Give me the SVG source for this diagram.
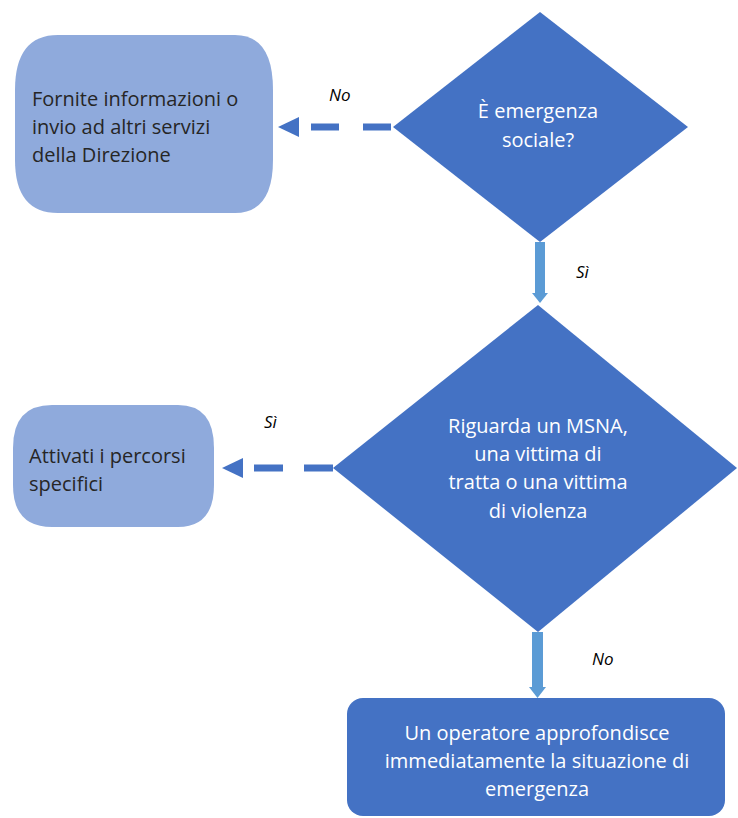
<svg xmlns="http://www.w3.org/2000/svg" width="738" height="818" viewBox="0 0 738 818">
<style>
.dark{fill:#4472c4}
.light{fill:#8faadc}
.tw{fill:#ffffff;font-family:"Open Sans","Liberation Sans",sans-serif;font-size:20px;text-anchor:middle}
.td{fill:#262626;font-family:"Open Sans","Liberation Sans",sans-serif;font-size:20px}
.lbl{fill:#000000;font-family:"Open Sans","Liberation Sans",sans-serif;font-size:17px;font-style:italic}
.dash{stroke:#4472c4;stroke-width:7;fill:none}
.vbar{fill:#5b9bd5}
</style>
<rect width="738" height="818" fill="#ffffff"/>
<g id="node-fornite">
<path class="light" d="M58,35 H235 Q273,35 273,90 V160 Q273,213 235,213 H58 Q15,213 15,160 V90 Q15,35 58,35 Z"/>
<text class="td" x="32" y="106">Fornite informazioni o</text>
<text class="td" x="32" y="134">invio ad altri servizi</text>
<text class="td" x="32" y="162">della Direzione</text>
</g>
<g id="node-emergenza">
<polygon class="dark" points="540,12 688,127 540,242 393,127"/>
<text class="tw" x="538" y="118">È emergenza</text>
<text class="tw" x="538" y="147">sociale?</text>
</g>
<g id="node-riguarda">
<polygon class="dark" points="538,305 737,468 538,632 333,468"/>
<text class="tw" x="538" y="433">Riguarda un MSNA,</text>
<text class="tw" x="538" y="461">una vittima di</text>
<text class="tw" x="538" y="489">tratta o una vittima</text>
<text class="tw" x="538" y="518">di violenza</text>
</g>
<g id="node-attivati">
<path class="light" d="M52,405 H178 Q214,405 214,448 V485 Q214,527 178,527 H52 Q13,527 13,485 V448 Q13,405 52,405 Z"/>
<text class="td" x="29" y="463">Attivati i percorsi</text>
<text class="td" x="29" y="491">specifici</text>
</g>
<g id="node-operatore">
<rect class="dark" x="347" y="698" width="378" height="118" rx="16"/>
<text class="tw" x="537" y="740">Un operatore approfondisce</text>
<text class="tw" x="537" y="768">immediatamente la situazione di</text>
<text class="tw" x="537" y="796">emergenza</text>
</g>
<g id="connectors">
<line class="dash" x1="391" y1="127" x2="298" y2="127" stroke-dasharray="28 24"/>
<polygon class="dark" points="278,127 299,117 299,137"/>
<text class="lbl" x="329" y="101">No</text>
<line class="dash" x1="333" y1="468" x2="242" y2="468" stroke-dasharray="29 21"/>
<polygon class="dark" points="222,468 243,458 243,478"/>
<text class="lbl" x="264" y="428">Sì</text>
<rect class="vbar" x="535" y="242" width="10" height="52"/>
<polygon class="vbar" points="532,293 548,293 540,303"/>
<text class="lbl" x="576" y="278">Sì</text>
<rect class="vbar" x="532" y="632" width="11" height="56"/>
<polygon class="vbar" points="529,687 546,687 537.5,698"/>
<text class="lbl" x="592" y="665">No</text>
</g>
</svg>
